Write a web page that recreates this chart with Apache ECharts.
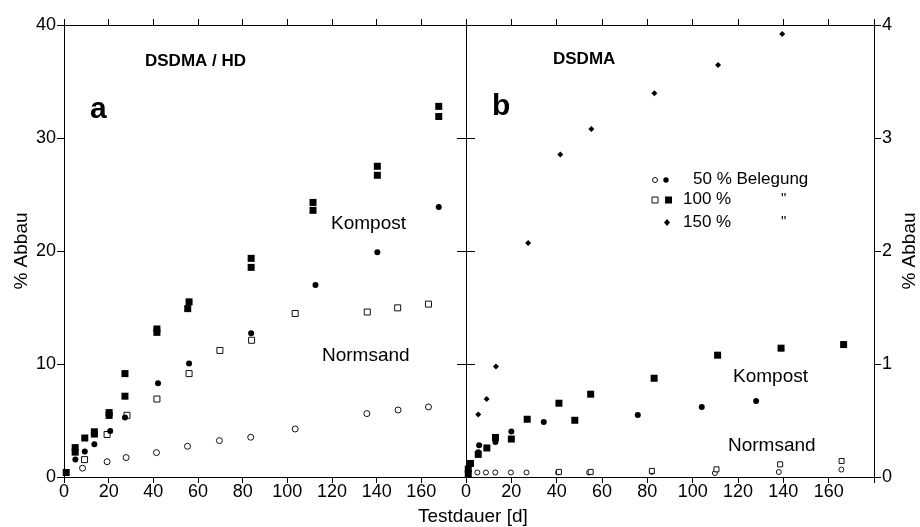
<!DOCTYPE html>
<html>
<head>
<meta charset="utf-8">
<script src="https://cdn.jsdelivr.net/npm/echarts@6/dist/echarts.min.js"></script>
<style>html,body{margin:0;padding:0;background:#fff;}#chart{width:920px;height:527px;}</style>
</head>
<body>
<div id="chart"></div>
<script>
// ---------- Panel a: DSDMA / HD (% Abbau 0-40) ----------
const aKompost100Days   = [1, 5, 5, 9.3, 13.6, 13.6, 20.2, 20.2, 27.3, 27.3, 41.6, 41.6, 55.4, 56, 83.8, 83.8, 111.5, 111.5, 140.3, 140.3, 167.8, 167.8];
const aKompost100Values = [0.4, 2.2, 2.6, 3.45, 3.8, 4.0, 5.45, 5.7, 7.15, 9.15, 12.8, 13.1, 14.9, 15.5, 18.55, 19.35, 23.6, 24.3, 26.7, 27.5, 31.9, 32.8];
const aKompost50Days    = [5.1, 9.3, 13.6, 20.7, 27.3, 42.1, 56, 83.8, 112.6, 140.3, 167.8];
const aKompost50Values  = [1.55, 2.25, 2.9, 4.07, 5.26, 8.3, 10.05, 12.73, 17.0, 19.9, 23.9];
const aNormsand100Days   = [9.2, 19.3, 28.2, 41.6, 56, 69.8, 84, 103.5, 135.8, 149.4, 163.2];
const aNormsand100Values = [1.54, 3.76, 5.46, 6.9, 9.15, 11.2, 12.1, 14.47, 14.6, 14.97, 15.3];
const aNormsand50Days    = [8.3, 19.3, 27.8, 41.4, 55.3, 69.6, 83.6, 103.5, 135.6, 149.6, 163.2];
const aNormsand50Values  = [0.78, 1.35, 1.72, 2.16, 2.72, 3.22, 3.52, 4.25, 5.61, 5.93, 6.2];

// ---------- Panel b: DSDMA (% Abbau 0-4) ----------
const bKompost150Days   = [5.4, 9.1, 13.2, 27.4, 41.6, 55.3, 83.1, 111.2, 139.5];
const bKompost150Values = [0.553, 0.69, 0.978, 2.07, 2.855, 3.08, 3.396, 3.647, 3.92];
const bKompost100Days   = [1, 1, 2, 5.4, 9.2, 13, 20, 27, 41, 48, 55, 83, 111, 139, 166.6];
const bKompost100Values = [0.03, 0.07, 0.12, 0.2, 0.257, 0.35, 0.336, 0.511, 0.653, 0.502, 0.733, 0.874, 1.078, 1.14, 1.172];
const bKompost50Days    = [5.8, 5.4, 13, 20, 34.3, 75.8, 104, 128];
const bKompost50Values  = [0.28, 0.22, 0.31, 0.402, 0.487, 0.549, 0.62, 0.673];
const bNormsand100Days   = [41, 55, 82, 110.5, 138.6, 165.7];
const bNormsand100Values = [0.045, 0.045, 0.054, 0.068, 0.112, 0.142];
const bNormsand50Days    = [5, 8.8, 12.9, 19.8, 26.7, 40.6, 54.3, 82, 109.8, 138, 165.6];
const bNormsand50Values  = [0.04, 0.04, 0.04, 0.04, 0.04, 0.04, 0.04, 0.045, 0.035, 0.044, 0.066];

const xTicks = [0, 20, 40, 60, 80, 100, 120, 140, 160];
const aYTicks = [0, 10, 20, 30, 40];
const bYTicks = [0, 1, 2, 3, 4];

const FONT = '"Liberation Sans", Arial, sans-serif';
const zip = (xs, ys) => xs.map((x, i) => [x, ys[i]]);

const axisLine = {show: true, onZero: false, lineStyle: {color: '#000', width: 1}};
function xAx(grid, pos, labels) {
  return {
    type: 'value', gridIndex: grid, position: pos, min: 0, max: 180, interval: 20,
    axisLine: axisLine,
    axisTick: {show: true, inside: false, length: 6, lineStyle: {color: '#000'}},
    axisLabel: {show: labels, margin: 6, color: '#000', fontSize: 18, fontFamily: FONT,
      formatter: v => (xTicks.indexOf(v) >= 0 ? String(v) : '')},
    splitLine: {show: false}
  };
}
function yAx(grid, pos, max, interval, labels, inside, name, gap) {
  const ticks = grid === 0 ? aYTicks : bYTicks;
  return {
    type: 'value', gridIndex: grid, position: pos, min: 0, max: max, interval: interval,
    axisLine: axisLine,
    axisTick: {show: true, inside: inside, length: inside ? 9 : 7, lineStyle: {color: '#000'}},
    axisLabel: {show: labels, margin: 8, color: '#000', fontSize: 18, fontFamily: FONT,
      formatter: v => (ticks.indexOf(v) >= 0 ? String(v) : '')},
    splitLine: {show: false},
    name: name || '', nameLocation: 'middle', nameRotate: 90, nameGap: gap || 38,
    nameTextStyle: {color: '#000', fontSize: 19, fontFamily: FONT}
  };
}

function sc(name, xi, yi, data, symbol, size, filled) {
  return {
    name: name, type: 'scatter', xAxisIndex: xi, yAxisIndex: yi, data: data,
    symbol: symbol, symbolSize: size, clip: false,
    itemStyle: filled ? {color: '#000', opacity: 1} : {color: '#fff', borderColor: '#111', borderWidth: 1, opacity: 1},
    emphasis: {disabled: true}
  };
}

const option = {
  backgroundColor: '#fff',
  animation: false,
  grid: [
    {left: 64, top: 25, width: 402, height: 452},
    {left: 466, top: 25, width: 410, height: 452}
  ],
  xAxis: [xAx(0, 'bottom', true), xAx(0, 'top', false), xAx(1, 'bottom', true), xAx(1, 'top', false)],
  yAxis: [
    yAx(0, 'left', 40, 10, true, false, '% Abbau', 33),
    yAx(0, 'right', 40, 10, false, true),
    yAx(1, 'right', 4, 1, true, false, '% Abbau', 26),
    yAx(1, 'left', 4, 1, false, true)
  ],
  series: [
    sc('Normsand 50 % (a)', 0, 0, zip(aNormsand50Days, aNormsand50Values), 'circle', 6, false),
    sc('Normsand 100 % (a)', 0, 0, zip(aNormsand100Days, aNormsand100Values), 'rect', 6, false),
    sc('Kompost 50 % (a)', 0, 0, zip(aKompost50Days, aKompost50Values), 'circle', 6, true),
    sc('Kompost 100 % (a)', 0, 0, zip(aKompost100Days, aKompost100Values), 'rect', 7, true),
    sc('Normsand 50 % (b)', 2, 2, zip(bNormsand50Days, bNormsand50Values), 'circle', 5, false),
    sc('Normsand 100 % (b)', 2, 2, zip(bNormsand100Days, bNormsand100Values), 'rect', 5, false),
    sc('Kompost 50 % (b)', 2, 2, zip(bKompost50Days, bKompost50Values), 'circle', 6, true),
    sc('Kompost 100 % (b)', 2, 2, zip(bKompost100Days, bKompost100Values), 'rect', 7, true),
    sc('Kompost 150 % (b)', 2, 2, zip(bKompost150Days, bKompost150Values), 'diamond', 6, true)
  ],
  graphic: [
    {type: 'text', left: 145, top: 53, style: {text: 'DSDMA / HD', font: 'bold 17px ' + FONT, fill: '#000'}},
    {type: 'text', left: 90, top: 95, style: {text: 'a', font: 'bold 30px ' + FONT, fill: '#000'}},
    {type: 'text', left: 553, top: 51, style: {text: 'DSDMA', font: 'bold 17px ' + FONT, fill: '#000'}},
    {type: 'text', left: 492, top: 92, style: {text: 'b', font: 'bold 30px ' + FONT, fill: '#000'}},
    {type: 'text', left: 331, top: 214, style: {text: 'Kompost', font: '19px ' + FONT, fill: '#000'}},
    {type: 'text', left: 322, top: 346, style: {text: 'Normsand', font: '19px ' + FONT, fill: '#000'}},
    {type: 'text', left: 733, top: 367, style: {text: 'Kompost', font: '19px ' + FONT, fill: '#000'}},
    {type: 'text', left: 728, top: 436, style: {text: 'Normsand', font: '19px ' + FONT, fill: '#000'}},
    {type: 'text', left: 418, top: 507, style: {text: 'Testdauer [d]', font: '19px ' + FONT, fill: '#000'}},
    // legend
    {type: 'circle', shape: {cx: 655, cy: 180, r: 2.5}, style: {fill: '#fff', stroke: '#111', lineWidth: 1}},
    {type: 'circle', shape: {cx: 666, cy: 180, r: 2.7}, style: {fill: '#000'}},
    {type: 'rect', shape: {x: 652, y: 197, width: 6, height: 6}, style: {fill: '#fff', stroke: '#111', lineWidth: 1}},
    {type: 'rect', shape: {x: 665, y: 196.5, width: 7, height: 7}, style: {fill: '#000'}},
    {type: 'polygon', shape: {points: [[667, 219], [670, 222.5], [667, 226], [664, 222.5]]}, style: {fill: '#000'}},
    {type: 'text', left: 693, top: 171, style: {text: '50 % Belegung', font: '17px ' + FONT, fill: '#000'}},
    {type: 'text', left: 683, top: 191, style: {text: '100 %', font: '17px ' + FONT, fill: '#000'}},
    {type: 'text', left: 683, top: 214, style: {text: '150 %', font: '17px ' + FONT, fill: '#000'}},
    {type: 'text', left: 781, top: 191, style: {text: '"', font: '15px ' + FONT, fill: '#000'}},
    {type: 'text', left: 781, top: 214, style: {text: '"', font: '15px ' + FONT, fill: '#000'}}
  ]
};
const chart = echarts.init(document.getElementById('chart'), null, {renderer: 'canvas'});
chart.setOption(option);
</script>
</body>
</html>
